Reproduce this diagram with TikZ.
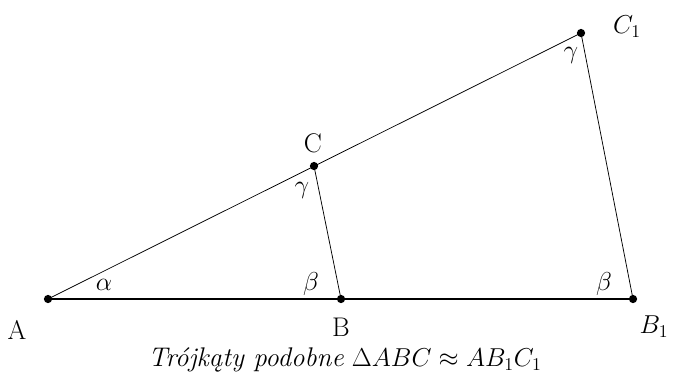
\documentclass[tikz,border=0pt]{standalone}
\begin{document}
\begin{tikzpicture}[x=0.02346cm,y=-0.02346cm,
  pt/.style={circle,fill=black,inner sep=0pt,minimum size=5.5pt},
  lbl/.style={inner sep=0pt,font=\fontsize{18}{22}\selectfont},
  thinline/.style={line width=0.5pt},
  baseline/.style={line width=1.5pt}]
\useasboundingbox (0,0) rectangle (684,384);
\coordinate (A) at (48,299);
\coordinate (B) at (341,299);
\coordinate (B1) at (633,299);
\coordinate (C) at (314,166);
\coordinate (C1) at (581,33);
\draw[baseline] (A) -- (B1);
\draw[thinline] (A) -- (C1) -- (B1);
\draw[thinline] (C) -- (B);
\foreach \p in {A,B,B1,C,C1} \node[pt] at (\p) {};
\node[lbl] (lA) at (17,330) {A};
\node[lbl] (lB) at (341,327) {B};
\node[lbl] (lB1) at (654,327) {$B_1$};
\node[lbl] (lC) at (313,143) {C};
\node[lbl] (lC1) at (627,27) {$C_1$};
\node[lbl] (al) at (104,285) {$\alpha$};
\node[lbl] (be1) at (311,284) {$\beta$};
\node[lbl] (be2) at (604,284) {$\beta$};
\node[lbl] (ga1) at (302,190) {$\gamma$};
\node[lbl] (ga2) at (571,55) {$\gamma$};
\node[lbl] (cap) at (345,360) {\textit{Trójkąty podobne} $\Delta ABC \approx AB_1C_1$};
\end{tikzpicture}
\end{document}
